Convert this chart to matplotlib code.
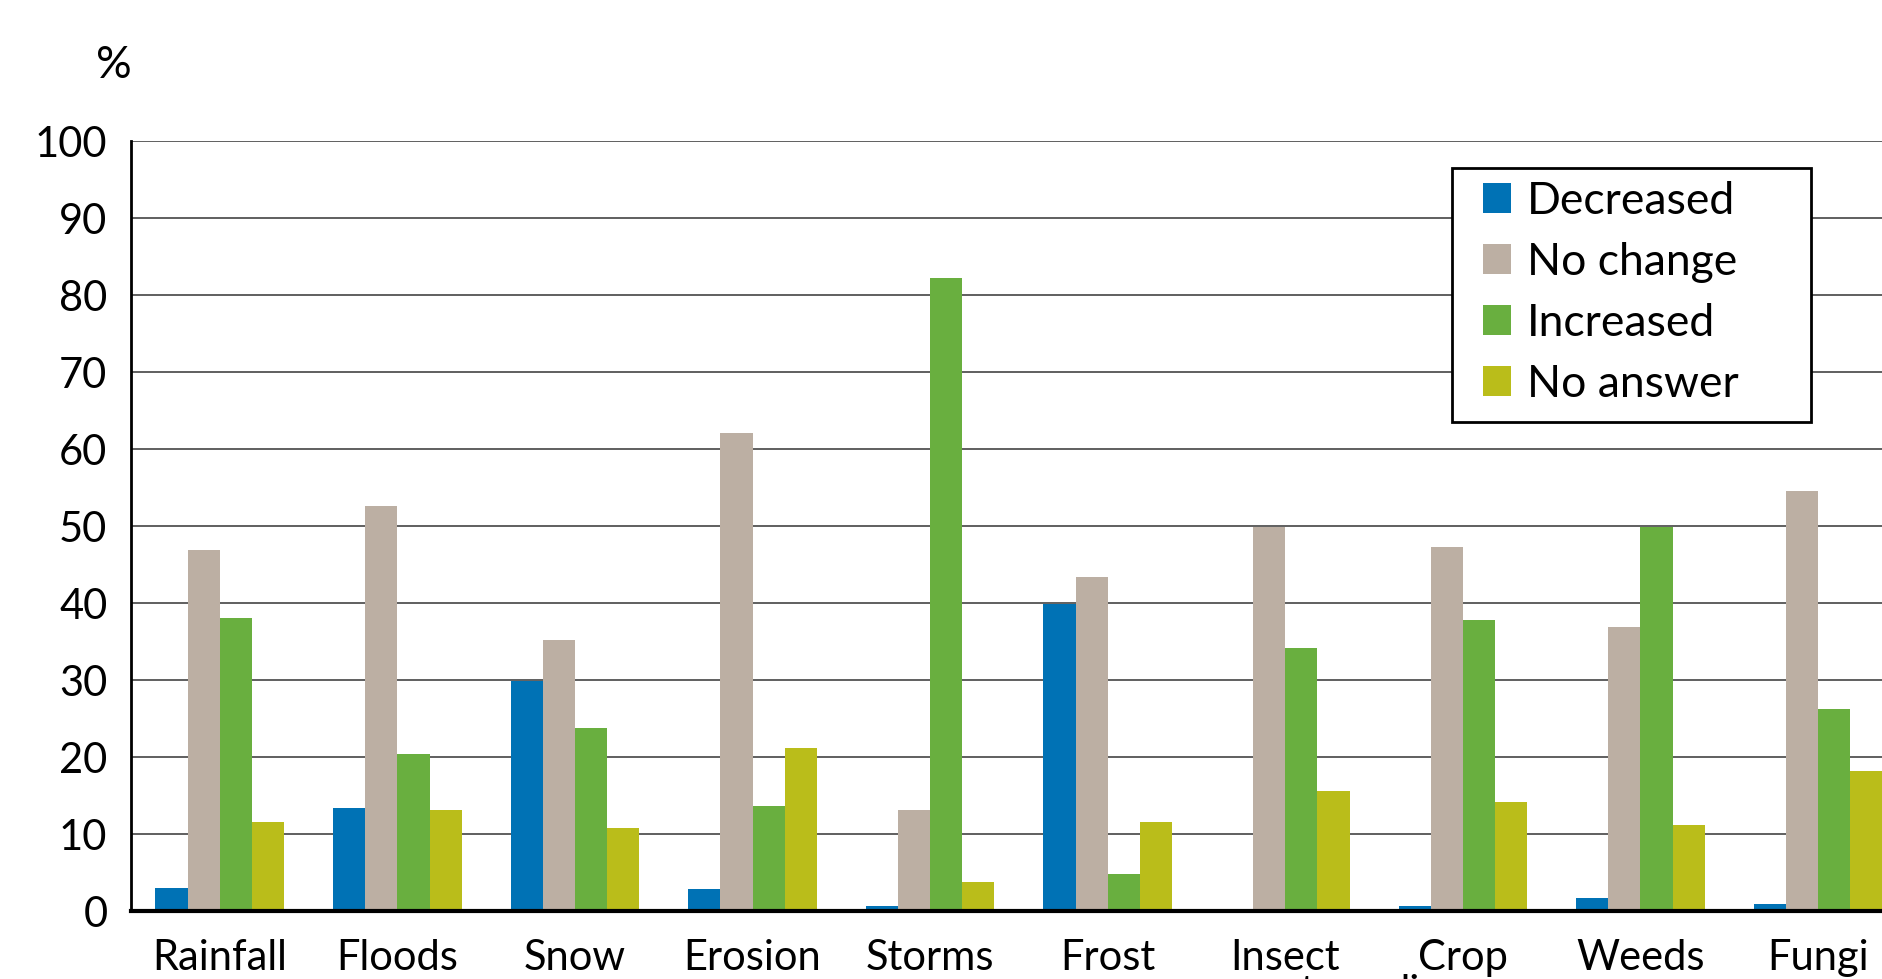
import matplotlib.pyplot as plt
from matplotlib.patches import Rectangle
import numpy as np

plt.rcParams.update({
    "font.family": ["Lato", "DejaVu Sans"],
    "font.size": 30,
})

categories = ["Rainfall", "Floods", "Snow", "Erosion", "Storms", "Frost",
              "Insect\npests", "Crop\ndiseases", "Weeds", "Fungi"]
series = ["Decreased", "No change", "Increased", "No answer"]
decreased = [3.0, 13.4, 29.9, 2.8, 0.6, 39.9, 0.2, 0.6, 1.7, 0.9]
no_change = [46.9, 52.6, 35.2, 62.0, 13.1, 43.3, 49.8, 47.2, 36.9, 54.5]
increased = [38.0, 20.4, 23.7, 13.6, 82.1, 4.8, 34.1, 37.7, 49.8, 26.2]
no_answer = [11.5, 13.1, 10.7, 21.2, 3.7, 11.5, 15.6, 14.2, 11.1, 18.1]
colors = ["#0072B5", "#BCAFA3", "#69AF3F", "#BABD1A"]
yticks = [0, 10, 20, 30, 40, 50, 60, 70, 80, 90, 100]

fig = plt.figure(figsize=(18.82, 9.795), dpi=100)
ax = fig.add_axes([0.0696, 0.0695, 0.9304, 0.7865])

x = np.arange(len(categories))
w = 0.181
for i, (vals, lbl, c) in enumerate(zip([decreased, no_change, increased, no_answer], series, colors)):
    ax.bar(x + (i - 1.5) * w, vals, w, label=lbl, color=c, zorder=3)

ax.set_xlim(-0.5, 9.36)
ax.set_ylim(0, 100)
ax.set_yticks(yticks)
ax.set_yticklabels([str(v) for v in yticks], fontsize=30)
ax.set_xticks(x)
ax.set_xticklabels(categories, fontsize=30, linespacing=0.9, va="top")
ax.tick_params(axis="y", length=0, pad=17)
ax.tick_params(axis="x", length=0, pad=20)
ax.grid(axis="y", color="#444444", linewidth=1.2, zorder=0)
for s in ["top", "right"]:
    ax.spines[s].set_visible(False)
ax.spines["left"].set_linewidth(2)
ax.spines["bottom"].set_linewidth(3)
ax.spines["bottom"].set_zorder(4)

fig.text(0.0605, 0.933, "%", fontsize=32, ha="center", va="center")

# legend box is wider than its entries in the original, so draw the frame separately
frame = Rectangle((0.7715, 1 - 422 / 979), (1811 - 1452) / 1882, (422 - 168) / 979,
                  transform=fig.transFigure, facecolor="white", edgecolor="black",
                  linewidth=2, zorder=5)
fig.patches.append(frame)
leg = fig.legend(loc="upper left", bbox_to_anchor=(0.788, 0.815), fontsize=32,
                 frameon=False, handlelength=0.64, handleheight=0.64, handletextpad=0.35,
                 labelspacing=0.45, borderpad=0, borderaxespad=0)
leg.set_zorder(6)

fig.savefig("out.png", dpi=100)
